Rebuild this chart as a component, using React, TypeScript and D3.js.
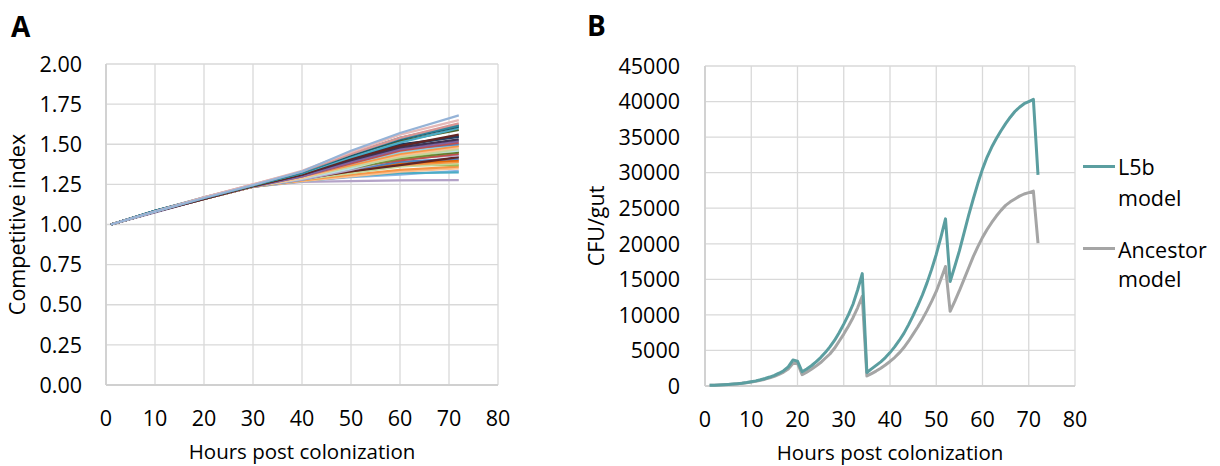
import React from "react";
import * as d3 from "d3";

// ---------- Panel A data ----------
const hoursA = [1, 10, 20, 30, 40, 50, 60, 72];
const ciValues: number[][] = [
  [1.0, 1.08, 1.16, 1.235, 1.265, 1.27, 1.275, 1.277],
  [1.0, 1.08, 1.16, 1.235, 1.27, 1.295, 1.31, 1.335],
  [1.0, 1.08, 1.16, 1.235, 1.27, 1.3, 1.32, 1.325],
  [1.0, 1.08, 1.16, 1.235, 1.27, 1.3, 1.33, 1.35],
  [1.0, 1.08, 1.16, 1.235, 1.275, 1.31, 1.34, 1.36],
  [1.0, 1.08, 1.16, 1.235, 1.28, 1.33, 1.37, 1.37],
  [1.0, 1.08, 1.16, 1.235, 1.28, 1.32, 1.36, 1.38],
  [1.0, 1.08, 1.16, 1.24, 1.29, 1.34, 1.37, 1.39],
  [1.0, 1.085, 1.165, 1.24, 1.285, 1.33, 1.38, 1.4],
  [1.0, 1.08, 1.16, 1.235, 1.28, 1.34, 1.39, 1.41],
  [1.0, 1.08, 1.16, 1.235, 1.285, 1.33, 1.37, 1.42],
  [1.0, 1.08, 1.16, 1.235, 1.28, 1.34, 1.41, 1.43],
  [1.0, 1.08, 1.16, 1.235, 1.29, 1.36, 1.4, 1.44],
  [1.0, 1.08, 1.16, 1.235, 1.295, 1.35, 1.41, 1.45],
  [1.0, 1.08, 1.16, 1.24, 1.3, 1.37, 1.42, 1.45],
  [1.0, 1.08, 1.16, 1.235, 1.29, 1.36, 1.42, 1.46],
  [1.0, 1.08, 1.16, 1.235, 1.285, 1.35, 1.43, 1.46],
  [1.0, 1.08, 1.16, 1.235, 1.29, 1.36, 1.42, 1.47],
  [1.0, 1.08, 1.16, 1.235, 1.29, 1.37, 1.43, 1.48],
  [1.0, 1.08, 1.16, 1.235, 1.3, 1.37, 1.44, 1.49],
  [1.0, 1.08, 1.165, 1.24, 1.3, 1.38, 1.45, 1.5],
  [1.0, 1.085, 1.165, 1.245, 1.31, 1.4, 1.47, 1.5],
  [1.0, 1.08, 1.165, 1.24, 1.3, 1.38, 1.46, 1.51],
  [1.0, 1.075, 1.16, 1.235, 1.3, 1.39, 1.47, 1.52],
  [1.0, 1.08, 1.16, 1.24, 1.31, 1.4, 1.48, 1.53],
  [1.0, 1.08, 1.165, 1.245, 1.32, 1.42, 1.5, 1.545],
  [1.0, 1.08, 1.165, 1.24, 1.32, 1.41, 1.49, 1.55],
  [1.0, 1.08, 1.16, 1.24, 1.31, 1.41, 1.49, 1.56],
  [1.0, 1.08, 1.165, 1.24, 1.32, 1.43, 1.52, 1.59],
  [1.0, 1.08, 1.165, 1.245, 1.32, 1.42, 1.51, 1.6],
  [1.0, 1.085, 1.165, 1.245, 1.325, 1.43, 1.53, 1.61],
  [1.0, 1.085, 1.165, 1.245, 1.325, 1.44, 1.535, 1.615],
  [1.0, 1.085, 1.17, 1.245, 1.32, 1.44, 1.54, 1.62],
  [1.0, 1.08, 1.17, 1.25, 1.33, 1.44, 1.54, 1.63],
  [1.0, 1.08, 1.17, 1.25, 1.335, 1.45, 1.56, 1.65],
  [1.0, 1.08, 1.165, 1.245, 1.33, 1.46, 1.57, 1.68],
];
const ciColors = [
  "#B3A2C7", "#8EB4E3", "#4BACC6", "#FAC090", "#F79646", "#9BBB59",
  "#C3D69B", "#F79646", "#E46C0A", "#4F81BD", "#632523", "#B3A2C7",
  "#C0504D", "#77933C", "#5F7530", "#9BBB59", "#B7DEE8", "#C3D69B",
  "#FAC090", "#F79646", "#93CDDD", "#4F81BD", "#C0504D", "#8064A2",
  "#403152", "#17375E", "#254061", "#632523", "#4F6228", "#4BACC6",
  "#215968", "#31859C", "#31859C", "#D99694", "#E6B9B8", "#95B3D7",
];
const yTicksA = [0, 0.25, 0.5, 0.75, 1.0, 1.25, 1.5, 1.75, 2.0];
const xTicks = [0, 10, 20, 30, 40, 50, 60, 70, 80];

// ---------- Panel B data ----------
const hoursB = d3.range(1, 73);
const l5bModel = [
  100, 120, 150, 180, 220, 270, 330, 400, 490, 600, 720, 870, 1050, 1260, 1500, 1800, 2150, 2700, 3650, 3500,
  2000, 2400, 2850, 3400, 4000, 4700, 5500, 6400, 7500, 8700, 10000, 11500, 13500, 15800,
  1900, 2400, 2900, 3400, 4000, 4700, 5500, 6400, 7400, 8600, 9900, 11300, 12800, 14500, 16400, 18500, 20900, 23500,
  14700, 16800, 19000, 21500, 24000, 26300, 28500, 30500, 32200, 33600, 34800, 35900, 36900, 37800, 38600, 39200, 39700, 40000, 40300, 29700,
];
const ancestorModel = [
  100, 115, 140, 170, 210, 255, 310, 380, 460, 560, 670, 800, 960, 1150, 1370, 1640, 1960, 2400, 3150, 3200,
  1600, 1950, 2350, 2800, 3300, 3900, 4500, 5300, 6300, 7300, 8400, 9600, 11000, 12600,
  1400, 1750, 2100, 2500, 2950, 3450, 4000, 4650, 5400, 6300, 7300, 8300, 9400, 10600, 11900, 13300, 15000, 16800,
  10500, 11900, 13400, 15000, 16600, 18200, 19600, 20900, 22000, 23000, 23900, 24700, 25400, 25900, 26300, 26700, 27000, 27200, 27400, 20100,
];
const yTicksB = [0, 5000, 10000, 15000, 20000, 25000, 30000, 35000, 40000, 45000];
const seriesNames = ["L5b", "Ancestor"];

const FONT = "'Open Sans', 'Liberation Sans', sans-serif";
const GRID = "#D9D9D9";
const TEAL = "#5B9EA0";
const GRAY = "#A5A5A5";

export default function App() {
  const xA = d3.scaleLinear().domain([0, 80]).range([106, 498]);
  const yA = d3.scaleLinear().domain([0, 2]).range([385, 64]);
  const xB = d3.scaleLinear().domain([0, 80]).range([705, 1075]);
  const yB = d3.scaleLinear().domain([0, 45000]).range([386, 66]);

  const lineA = d3
    .line<number>()
    .x((_, i) => xA(hoursA[i]))
    .y((d) => yA(d));
  const lineB = d3
    .line<number>()
    .x((_, i) => xB(hoursB[i]))
    .y((d) => yB(d));

  const fs = 21.5;

  return (
    <svg
      width={1220}
      height={466}
      style={{ position: "absolute", left: 0, top: 0, background: "#fff" }}
      fontFamily={FONT}
    >
      <rect x={0} y={0} width={1220} height={466} fill="#fff" />

      {/* ---------- Panel A ---------- */}
      <text x={11} y={37} fontSize={28} fontWeight="bold" fill="#000">A</text>
      {xTicks.map((t) => (
        <line key={"ax" + t} x1={xA(t)} x2={xA(t)} y1={yA(0)} y2={yA(2)} stroke={GRID} strokeWidth={1.3} />
      ))}
      {yTicksA.map((t) => (
        <line key={"ay" + t} x1={xA(0)} x2={xA(80)} y1={yA(t)} y2={yA(t)} stroke={GRID} strokeWidth={1.3} />
      ))}
      <line x1={xA(0)} x2={xA(0)} y1={yA(0)} y2={yA(2)} stroke="#D0D0D0" strokeWidth={1.8} />
      <line x1={xA(0)} x2={xA(80)} y1={yA(0)} y2={yA(0)} stroke="#D0D0D0" strokeWidth={1.8} />
      {ciValues.map((vals, i) => (
        <path key={"ci" + i} d={lineA(vals) || ""} fill="none" stroke={ciColors[i % ciColors.length]} strokeWidth={2.2} strokeLinejoin="round" />
      ))}
      {yTicksA.map((t) => (
        <text key={"aty" + t} x={82} y={yA(t)} dy="0.36em" textAnchor="end" fontSize={fs} fill="#000">
          {d3.format(".2f")(t)}
        </text>
      ))}
      {xTicks.map((t) => (
        <text key={"atx" + t} x={xA(t)} y={426} textAnchor="middle" fontSize={fs} fill="#000">
          {t}
        </text>
      ))}
      <text x={(xA(0) + xA(80)) / 2} y={459} textAnchor="middle" fontSize={20.5} fill="#000">
        Hours post colonization
      </text>
      <text
        transform={`translate(25, ${(yA(0) + yA(2)) / 2}) rotate(-90)`}
        textAnchor="middle"
        fontSize={fs}
        fill="#000"
      >
        Competitive index
      </text>

      {/* ---------- Panel B ---------- */}
      <text x={587} y={36} fontSize={28} fontWeight="bold" fill="#000">B</text>
      {xTicks.map((t) => (
        <line key={"bx" + t} x1={xB(t)} x2={xB(t)} y1={yB(0)} y2={yB(45000)} stroke={GRID} strokeWidth={1.3} />
      ))}
      {yTicksB.map((t) => (
        <line key={"by" + t} x1={xB(0)} x2={xB(80)} y1={yB(t)} y2={yB(t)} stroke={GRID} strokeWidth={1.3} />
      ))}
      <line x1={xB(0)} x2={xB(0)} y1={yB(0)} y2={yB(45000)} stroke="#D0D0D0" strokeWidth={1.8} />
      <line x1={xB(0)} x2={xB(80)} y1={yB(0)} y2={yB(0)} stroke="#D0D0D0" strokeWidth={1.8} />
      <path d={lineB(ancestorModel) || ""} fill="none" stroke={GRAY} strokeWidth={3} strokeLinejoin="round" />
      <path d={lineB(l5bModel) || ""} fill="none" stroke={TEAL} strokeWidth={3} strokeLinejoin="round" />
      {yTicksB.map((t) => (
        <text key={"bty" + t} x={680} y={yB(t)} dy="0.36em" textAnchor="end" fontSize={fs} fill="#000">
          {t}
        </text>
      ))}
      {xTicks.map((t) => (
        <text key={"btx" + t} x={xB(t)} y={426.5} textAnchor="middle" fontSize={fs} fill="#000">
          {t}
        </text>
      ))}
      <text x={(xB(0) + xB(80)) / 2} y={460} textAnchor="middle" fontSize={20.5} fill="#000">
        Hours post colonization
      </text>
      <text
        transform={`translate(604, ${(yB(0) + yB(45000)) / 2}) rotate(-90)`}
        textAnchor="middle"
        fontSize={fs}
        fill="#000"
      >
        CFU/gut
      </text>

      {/* Legend */}
      <line x1={1083} x2={1115} y1={166.5} y2={166.5} stroke={TEAL} strokeWidth={3} />
      <text x={1118} y={175} fontSize={fs} fill="#000">{seriesNames[0]}</text>
      <text x={1118} y={206} fontSize={fs} fill="#000">model</text>
      <line x1={1083} x2={1115} y1={248.5} y2={248.5} stroke={GRAY} strokeWidth={3} />
      <text x={1118} y={257.5} fontSize={fs} fill="#000">{seriesNames[1]}</text>
      <text x={1118} y={287} fontSize={fs} fill="#000">model</text>
    </svg>
  );
}
